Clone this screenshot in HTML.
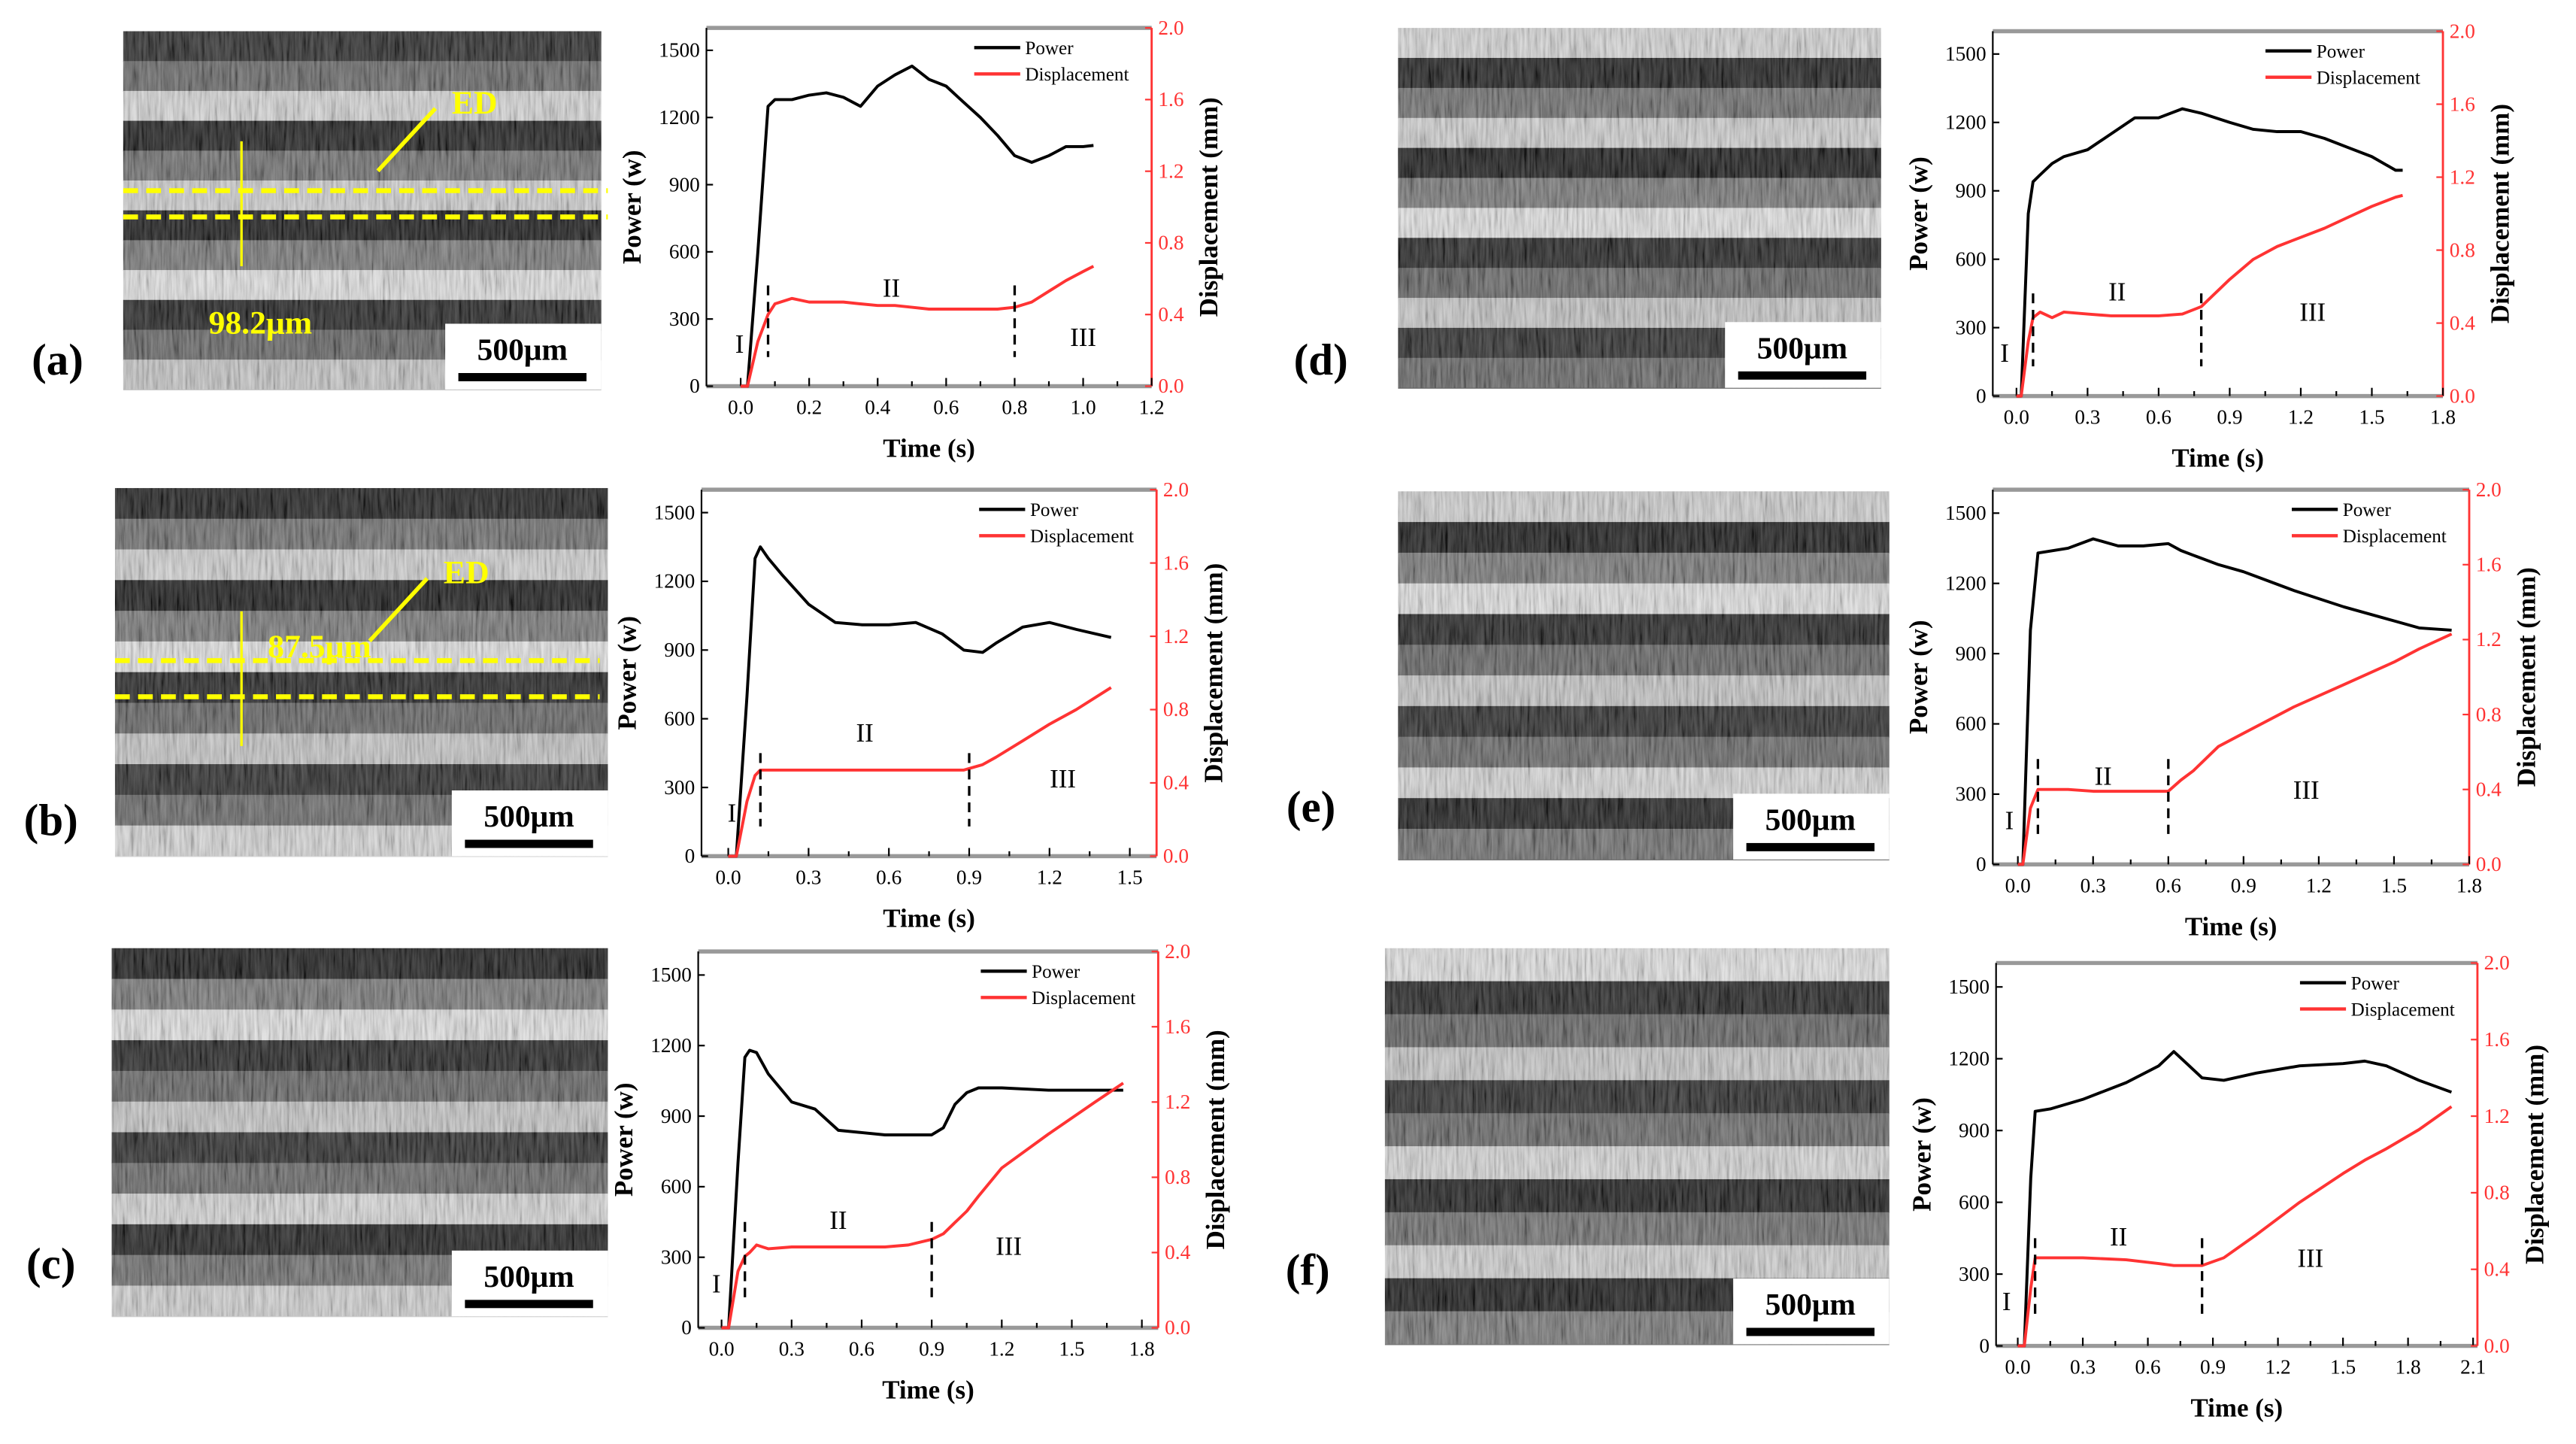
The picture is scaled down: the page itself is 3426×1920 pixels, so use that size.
<!DOCTYPE html>
<html><head><meta charset="utf-8">
<style>
html,body{margin:0;padding:0;background:#fff;}
svg{display:block;}
text{font-family:"Liberation Serif",serif;}
</style></head>
<body>
<svg id="fig" width="3426" height="1920" viewBox="0 0 1568 878.7" preserveAspectRatio="none" xmlns="http://www.w3.org/2000/svg">
<defs>
<filter id="grain" x="0" y="0" width="100%" height="100%">
<feTurbulence type="fractalNoise" baseFrequency="0.6 0.05" numOctaves="3" seed="3" result="n"/>
<feColorMatrix type="matrix" values="1.6 0 0 0 -0.3  1.6 0 0 0 -0.3  1.6 0 0 0 -0.3  0 0 0 0 0.8" in="n" result="m"/>
<feComposite in="m" in2="SourceGraphic" operator="atop"/>
</filter>
</defs>
</svg>
<script>
// ===== chart data =====
const panelLabels = ["(a)","(b)","(c)","(d)","(e)","(f)"];
const xTicksA = [0.0,0.2,0.4,0.6,0.8,1.0,1.2];
const xTicksB = [0.0,0.3,0.6,0.9,1.2,1.5];
const xTicksC = [0.0,0.3,0.6,0.9,1.2,1.5,1.8];
const xTicksD = [0.0,0.3,0.6,0.9,1.2,1.5,1.8];
const xTicksE = [0.0,0.3,0.6,0.9,1.2,1.5,1.8];
const xTicksF = [0.0,0.3,0.6,0.9,1.2,1.5,1.8,2.1];
const powerTicks = [0,300,600,900,1200,1500];
const dispTicks = [0.0,0.4,0.8,1.2,1.6,2.0];

const tA = [0,0.02,0.05,0.08,0.1,0.15,0.2,0.25,0.3,0.35,0.4,0.45,0.5,0.55,0.6,0.65,0.7,0.75,0.8,0.85,0.9,0.95,1.0,1.03];
const pA = [0,0,600,1250,1280,1280,1300,1310,1290,1250,1340,1390,1430,1370,1340,1270,1200,1120,1030,1000,1030,1070,1070,1075];
const dA = [0,0,0.25,0.4,0.46,0.49,0.47,0.47,0.47,0.46,0.45,0.45,0.44,0.43,0.43,0.43,0.43,0.43,0.44,0.47,0.53,0.59,0.64,0.67];

const tB = [0,0.03,0.07,0.1,0.12,0.15,0.2,0.3,0.4,0.5,0.6,0.7,0.8,0.88,0.95,1.0,1.1,1.2,1.3,1.43];
const pB = [0,0,700,1300,1350,1300,1230,1100,1020,1010,1010,1020,970,900,890,930,1000,1020,990,955];
const dB = [0,0,0.3,0.44,0.47,0.47,0.47,0.47,0.47,0.47,0.47,0.47,0.47,0.47,0.5,0.54,0.63,0.72,0.8,0.92];

const tC = [0,0.03,0.07,0.1,0.12,0.15,0.2,0.3,0.4,0.5,0.6,0.7,0.8,0.9,0.95,1.0,1.05,1.1,1.2,1.4,1.6,1.72];
const pC = [0,0,700,1150,1180,1170,1080,960,930,840,830,820,820,820,850,950,1000,1020,1020,1010,1010,1010];
const dC = [0,0,0.3,0.38,0.4,0.44,0.42,0.43,0.43,0.43,0.43,0.43,0.44,0.47,0.5,0.56,0.62,0.7,0.85,1.03,1.2,1.3];

const tD = [0,0.02,0.05,0.07,0.1,0.15,0.2,0.3,0.4,0.5,0.6,0.7,0.78,0.9,1.0,1.1,1.2,1.3,1.4,1.5,1.6,1.63];
const pD = [0,0,800,940,970,1020,1050,1080,1150,1220,1220,1260,1240,1200,1170,1160,1160,1130,1090,1050,990,990];
const dD = [0,0,0.3,0.43,0.46,0.43,0.46,0.45,0.44,0.44,0.44,0.45,0.49,0.64,0.75,0.82,0.87,0.92,0.98,1.04,1.09,1.1];

const tE = [0,0.02,0.05,0.08,0.2,0.3,0.4,0.5,0.6,0.65,0.7,0.8,0.9,1.0,1.1,1.3,1.5,1.6,1.73];
const pE = [0,0,1000,1330,1350,1390,1360,1360,1370,1340,1320,1280,1250,1210,1170,1100,1040,1010,1000];
const dE = [0,0,0.3,0.4,0.4,0.39,0.39,0.39,0.39,0.45,0.5,0.63,0.7,0.77,0.84,0.96,1.08,1.15,1.23];

const tF = [0,0.03,0.06,0.08,0.15,0.3,0.5,0.65,0.72,0.78,0.85,0.95,1.1,1.3,1.5,1.6,1.7,1.85,2.0];
const pF = [0,0,700,980,990,1030,1100,1170,1230,1180,1120,1110,1140,1170,1180,1190,1170,1110,1060];
const dF = [0,0,0.3,0.46,0.46,0.46,0.45,0.43,0.42,0.42,0.42,0.46,0.58,0.75,0.9,0.97,1.03,1.13,1.25];

const dashA = [0.08,0.8], dashB = [0.12,0.9], dashC = [0.1,0.9], dashD = [0.07,0.78], dashE = [0.08,0.6], dashF = [0.08,0.85];

const NS = "http://www.w3.org/2000/svg";
const svg = document.getElementById('fig');
function mk(tag, attrs, parent, txt){
  const e = document.createElementNS(NS, tag);
  for (const k in attrs) e.setAttribute(k, attrs[k]);
  if (txt !== undefined) e.textContent = txt;
  (parent||svg).appendChild(e);
  return e;
}

const bandTones = ["#1c1c1c","#5e5e5e","#d6d6d6","#0e0e0e","#666666","#cfcfcf","#0a0a0a","#707070","#e2e2e2","#141414","#5a5a5a","#c4c4c4"];
function micro(g, x, y, w, h, seedShift){
  const n = bandTones.length;
  let yy = y;
  const bh = h / n;
  for (let i=0;i<n;i++){
    const r = mk('rect',{x:x,y:yy,width:w,height:bh+0.5,fill:bandTones[(i+seedShift)%n]},g);
    
    
    yy += bh;
  }
  const tex = mk('rect',{x:x,y:y,width:w,height:h,fill:"#555",filter:"url(#grain)",opacity:0.3},g);
  
  
  const bx = x + w - 95, by = y + h - 40;
  const box = mk('rect',{x:bx,y:by,width:95,height:40,fill:"#fff"},g);
  
  
  const st = mk('text',{x:bx+47,y:by+22,'font-size':19,'font-weight':'bold','text-anchor':'middle',fill:'#000'},g,"500μm");
  
  
  const sb = mk('rect',{x:bx+8,y:by+30,width:78,height:5,fill:'#000'},g);
  
  
}

function chart(cfg){
  const g = mk('g',{});
  
  
  const {L,R,T,B,x0,x1} = cfg;
  const sx = v => L + (v - x0)/(x1 - x0)*(R-L);
  const sp = v => B - v/1600*(B-T);
  const sd = v => B - v/2.0*(B-T);
  const top = mk('line',{x1:L,y1:T,x2:R,y2:T,stroke:'#999',"stroke-width":2.5},g);
   
  const bot = mk('line',{x1:L,y1:B,x2:R,y2:B,stroke:'#999',"stroke-width":2.5},g);
   
  const la = mk('line',{x1:L,y1:T,x2:L,y2:B,stroke:'#000',"stroke-width":1},g);
   
  const ra = mk('line',{x1:R,y1:T,x2:R,y2:B,stroke:'#f33',"stroke-width":1.3},g);
   
  cfg.xt.forEach((v,i)=>{
    const tk = mk('line',{x1:sx(v),y1:B,x2:sx(v),y2:B-5,stroke:'#000','stroke-width':1},g);
     
    if (i < cfg.xt.length-1){
      const m = (v + cfg.xt[i+1])/2;
      const mt = mk('line',{x1:sx(m),y1:B,x2:sx(m),y2:B-3,stroke:'#000','stroke-width':1},g);
       
    }
    const tl = mk('text',{x:sx(v),y:B+17,'font-size':12.5,'text-anchor':'middle',fill:'#000'},g,v.toFixed(1));
     
  });
  powerTicks.forEach(v=>{
    const tk = mk('line',{x1:L,y1:sp(v),x2:L+4,y2:sp(v),stroke:'#000'},g);
     
    const tl = mk('text',{x:L-4,y:sp(v)+4,'font-size':12.5,'text-anchor':'end',fill:'#000'},g,String(v));
     
  });
  dispTicks.forEach(v=>{
    const tk = mk('line',{x1:R,y1:sd(v),x2:R-4,y2:sd(v),stroke:'#f33'},g);
     
    const tl = mk('text',{x:R+4,y:sd(v)+4,'font-size':12.5,fill:'#f33'},g,v.toFixed(1));
     
  });
  const xtit = mk('text',{x:(L+R)/2,y:B+43,'font-size':16,'font-weight':'bold','text-anchor':'middle',fill:'#000'},g,"Time (s)");
   
  const cy = (T+B)/2;
  const ytit = mk('text',{x:L-40,y:cy,'font-size':16,'font-weight':'bold','text-anchor':'middle',fill:'#000',transform:`rotate(-90 ${L-40} ${cy})`},g,"Power (w)");
   
  const y2 = mk('text',{x:R+40,y:cy,'font-size':16,'font-weight':'bold','text-anchor':'middle',fill:'#000',transform:`rotate(-90 ${R+40} ${cy})`},g,"Displacement (mm)");
   
  const lx = R - 108, ly = T + 12;
  const l1 = mk('line',{x1:lx,y1:ly,x2:lx+28,y2:ly,stroke:'#000','stroke-width':2},g);
   
  const t1 = mk('text',{x:lx+31,y:ly+4,'font-size':11.5,fill:'#000'},g,"Power");
   
  const l2 = mk('line',{x1:lx,y1:ly+16,x2:lx+28,y2:ly+16,stroke:'#f33','stroke-width':2},g);
   
  const t2 = mk('text',{x:lx+31,y:ly+20,'font-size':11.5,fill:'#000'},g,"Displacement");
   
  const pp = cfg.t.map((v,i)=>`${sx(v).toFixed(1)},${sp(cfg.p[i]).toFixed(1)}`).join(' ');
  const pl = mk('polyline',{points:pp,fill:'none',stroke:'#000','stroke-width':1.8,'stroke-linejoin':'round'},g);
   
  const dp = cfg.t.map((v,i)=>`${sx(v).toFixed(1)},${sd(cfg.d[i]).toFixed(1)}`).join(' ');
  const dl = mk('polyline',{points:dp,fill:'none',stroke:'#f33','stroke-width':1.8,'stroke-linejoin':'round'},g);
   
  cfg.dash.forEach(v=>{
    const dv = mk('line',{x1:sx(v),y1:sp(450),x2:sx(v),y2:sp(130),stroke:'#000','stroke-width':1.5,'stroke-dasharray':'6,4'},g);
     
  });
  const s1 = mk('text',{x:sx(cfg.dash[0])-20,y:sp(150),'font-size':16,fill:'#000'},g,"I");
   
  const s2 = mk('text',{x:sx((cfg.dash[0]+cfg.dash[1])/2),y:sp(cfg.yII),'font-size':16,'text-anchor':'middle',fill:'#000'},g,"II");
   
  const s3 = mk('text',{x:sx(cfg.xIII),y:sp(cfg.yIII),'font-size':16,'text-anchor':'middle',fill:'#000'},g,"III");
   
  const pl2 = mk('text',{x:cfg.lx,y:cfg.ly,'font-size':27,'font-weight':'bold','text-anchor':'middle',fill:'#000'},svg,cfg.label);
   
}

const imgs = [
  [75,19,291,218,0],[70,297,300,224,3],[68,577,302,224,6],
  [851,17,294,219,2],[851,299,299,224,5],[843,577,307,241,8]
];
imgs.forEach(a=>{
  const g = mk('g',{});
  
  
  micro(g,a[0],a[1],a[2],a[3],a[4]);
});
[[75,116,132,147,"98.2μm",127,203],[70,402,424,147,"87.5μm",163,400]].forEach(a=>{
  const g = mk('g',{});
  
  
  mk('line',{x1:a[0],y1:a[1],x2:a[0]+295,y2:a[1],stroke:'#ff0','stroke-width':3,'stroke-dasharray':'9,5'},g);
  mk('line',{x1:a[0],y1:a[2],x2:a[0]+295,y2:a[2],stroke:'#ff0','stroke-width':3,'stroke-dasharray':'9,5'},g);
  mk('line',{x1:a[3],y1:a[1]-30,x2:a[3],y2:a[2]+30,stroke:'#ff0','stroke-width':1.5},g);
  mk('text',{x:a[5],y:a[6],'font-size':20,'font-weight':'bold',fill:'#ff0'},g,a[4]);
  mk('text',{x:a[0]+200,y:a[1]-47,'font-size':20,'font-weight':'bold',fill:'#ff0'},g,"ED");
  mk('line',{x1:a[0]+190,y1:a[1]-50,x2:a[0]+155,y2:a[1]-12,stroke:'#ff0','stroke-width':2.5},g);
});

chart({id:'a',L:430,R:701,T:17,B:235,x0:-0.1,x1:1.2,xt:xTicksA,t:tA,p:pA,d:dA,dash:dashA,yII:400,xIII:1.0,yIII:180,label:panelLabels[0],lx:35,ly:228});
chart({id:'b',L:427,R:704,T:298,B:521,x0:-0.1,x1:1.6,xt:xTicksB,t:tB,p:pB,d:dB,dash:dashB,yII:500,xIII:1.25,yIII:300,label:panelLabels[1],lx:31,ly:508});
chart({id:'c',L:425,R:705,T:579,B:808,x0:-0.1,x1:1.87,xt:xTicksC,t:tC,p:pC,d:dC,dash:dashC,yII:420,xIII:1.23,yIII:310,label:panelLabels[2],lx:31,ly:778});
chart({id:'d',L:1213,R:1487,T:19,B:241,x0:-0.1,x1:1.8,xt:xTicksD,t:tD,p:pD,d:dD,dash:dashD,yII:420,xIII:1.25,yIII:330,label:panelLabels[3],lx:804,ly:228});
chart({id:'e',L:1213,R:1503,T:298,B:526,x0:-0.1,x1:1.8,xt:xTicksE,t:tE,p:pE,d:dE,dash:dashE,yII:340,xIII:1.15,yIII:280,label:panelLabels[4],lx:798,ly:500});
chart({id:'f',L:1215,R:1508,T:586,B:819,x0:-0.1,x1:2.12,xt:xTicksF,t:tF,p:pF,d:dF,dash:dashF,yII:420,xIII:1.35,yIII:330,label:panelLabels[5],lx:796,ly:782});
</script>
</body></html>
